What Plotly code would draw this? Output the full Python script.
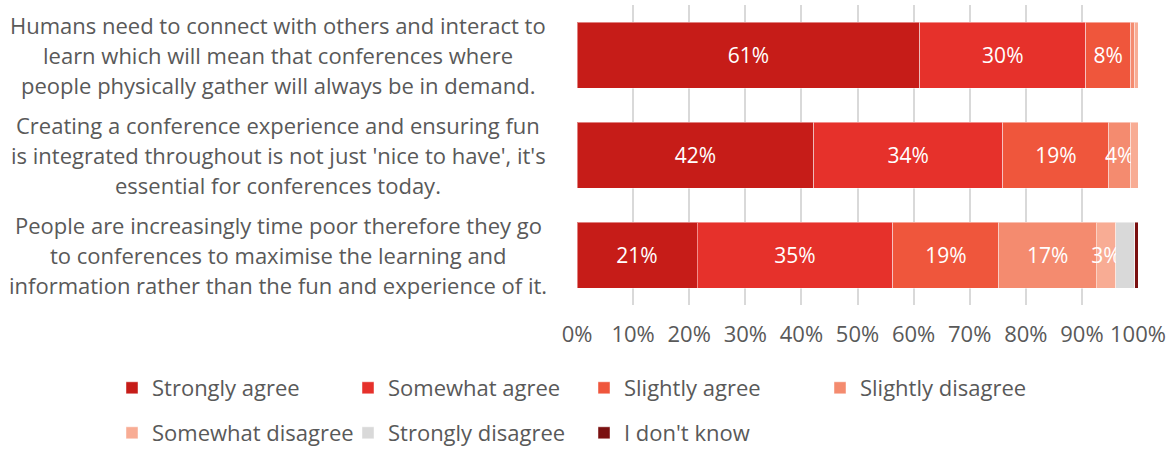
import plotly.graph_objects as go

# Survey statements (top to bottom)
statements = [
    "Humans need to connect with others and interact to<br>learn which will mean that conferences where<br>people physically gather will always be in demand.",
    "Creating a conference experience and ensuring fun<br>is integrated throughout is not just 'nice to have', it's<br>essential for conferences today.",
    "People are increasingly time poor therefore they go<br>to conferences to maximise the learning and<br>information rather than the fun and experience of it.",
]

responses = [
    "Strongly agree", "Somewhat agree", "Slightly agree", "Slightly disagree",
    "Somewhat disagree", "Strongly disagree", "I don't know",
]

# Share of respondents (%) per response, one value per statement
strongly_agree = [61.1, 42.2, 21.4]
somewhat_agree = [29.6, 33.7, 34.9]
slightly_agree = [8.0, 18.9, 18.9]
slightly_disagree = [0.7, 3.9, 17.4]
somewhat_disagree = [0.6, 1.3, 3.4]
strongly_disagree = [0.0, 0.0, 3.4]
dont_know = [0.0, 0.0, 0.6]

series = [strongly_agree, somewhat_agree, slightly_agree, slightly_disagree,
          somewhat_disagree, strongly_disagree, dont_know]
colors = ["#C61C18", "#E6312B", "#EF563C", "#F48B6F", "#F8AC94", "#D9D9D9", "#7A1010"]
show_labels = [True, True, True, True, True, False, False]

x_ticks = list(range(0, 101, 10))
x_tick_text = [f"{t}%" for t in x_ticks]

FONT = "'Open Sans', sans-serif"
TEXT_COLOR = "#595959"
PLOT_L, PLOT_R, PLOT_T, PLOT_B = 577, 1138, 5, 305
PW, PH = PLOT_R - PLOT_L, PLOT_B - PLOT_T


def px_x(px):
    return (px - PLOT_L) / PW


def px_y(py):
    return (PLOT_B - py) / PH


fig = go.Figure()
for i, (name, vals, col, lab) in enumerate(zip(responses, series, colors, show_labels)):
    text = [f"{v:.0f}%" if (lab and v >= 2.5) else "" for v in vals]
    fig.add_trace(go.Bar(
        y=statements, x=vals, name=name, orientation="h",
        marker=dict(color=col, line=dict(color="rgba(255,255,255,0.45)", width=1)),
        text=text, texttemplate="%{text}", textposition="inside",
        insidetextanchor="middle", textangle=0,
        textfont=dict(color="white", size=21, family=FONT),
        legend="legend" if i < 4 else "legend2",
        hoverinfo="skip",
    ))

# Category labels: centred multi-line text left of the plot
for cat in statements:
    lines = cat.split("<br>")
    n = len(lines)
    for j, line in enumerate(lines):
        fig.add_annotation(
            x=px_x(278), xref="paper", y=cat, yref="y",
            text=line, showarrow=False, xanchor="center", yanchor="middle",
            yshift=(((n - 1) / 2) - j) * 30,
            font=dict(size=22, color=TEXT_COLOR, family=FONT),
        )

legend_common = dict(
    orientation="h", xanchor="left", yanchor="middle",
    entrywidth=191, entrywidthmode="pixels",
    font=dict(size=22, color=TEXT_COLOR, family=FONT),
    bgcolor="rgba(0,0,0,0)", traceorder="normal",
)

fig.update_layout(
    width=1176, height=449,
    margin=dict(l=PLOT_L, r=1176 - PLOT_R, t=PLOT_T, b=449 - PLOT_B, autoexpand=False),
    barmode="stack", bargap=0.34,
    uniformtext=dict(minsize=21, mode="show"),
    plot_bgcolor="white", paper_bgcolor="white",
    font=dict(family=FONT, color=TEXT_COLOR),
    xaxis=dict(
        range=[0, 100], tickvals=x_ticks, ticktext=x_tick_text,
        showgrid=True, gridcolor="#D9D9D9", gridwidth=2,
        zeroline=False, showline=False, ticks="",
        tickfont=dict(size=22, color=TEXT_COLOR, family=FONT),
        ticklabelstandoff=14, fixedrange=True,
    ),
    yaxis=dict(
        autorange="reversed", showticklabels=False, showgrid=False,
        zeroline=False, fixedrange=True,
    ),
    legend=dict(x=px_x(112), y=px_y(388), **legend_common),
    legend2=dict(x=px_x(112), y=px_y(433), **legend_common),
    showlegend=True,
)

fig.write_html("out.html")
